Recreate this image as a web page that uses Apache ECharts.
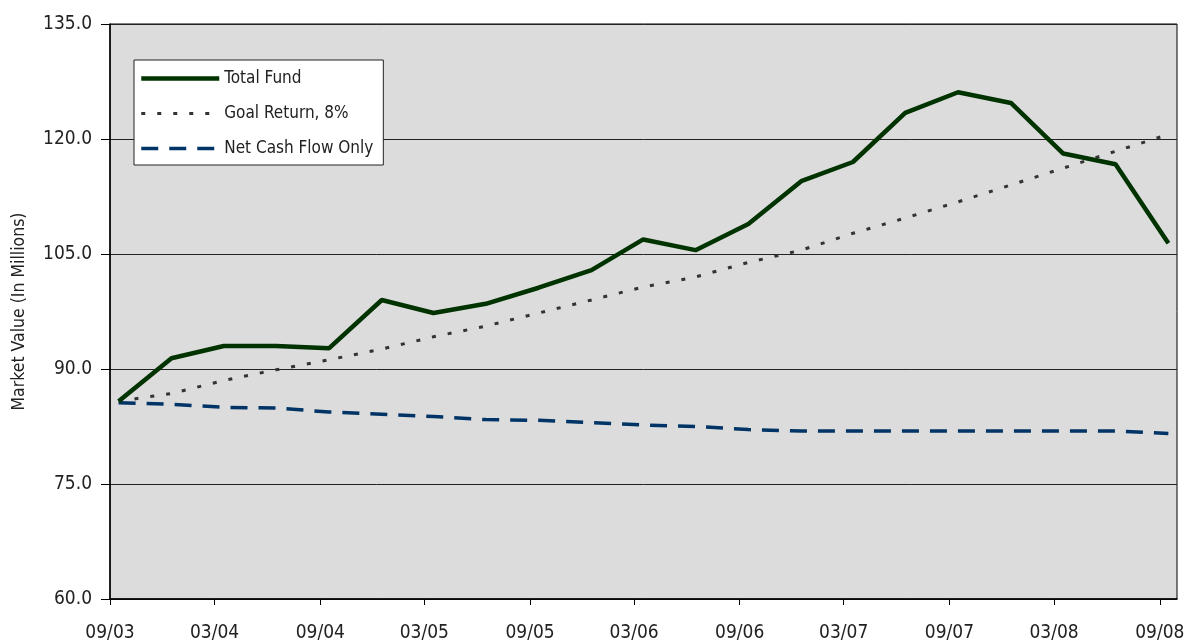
<!DOCTYPE html>
<html><head><meta charset="utf-8">
<script src="https://cdn.jsdelivr.net/npm/echarts@6/dist/echarts.min.js"></script>
<style>html,body{margin:0;padding:0;background:#fff}#c{width:1193px;height:644px}</style>
</head><body><div id="c"></div>
<script>
// Quarter-end dates (mm/dd/yyyy)
const dates = ['09/30/2003','12/31/2003','03/31/2004','06/30/2004','09/30/2004','12/31/2004','03/31/2005','06/30/2005','09/30/2005','12/31/2005','03/31/2006','06/30/2006','09/30/2006','12/31/2006','03/31/2007','06/30/2007','09/30/2007','12/31/2007','03/31/2008','06/30/2008','09/30/2008'];
const totalFund = [85.8, 91.4, 93.0, 93.0, 92.7, 99.0, 97.3, 98.5, 100.6, 102.9, 106.9, 105.5, 108.9, 114.5, 117.0, 123.4, 126.1, 124.7, 118.1, 116.7, 106.4];
const goalReturn = [85.8, 86.8, 88.5, 89.9, 91.2, 92.6, 94.2, 95.6, 97.3, 99.0, 100.7, 102.0, 103.9, 105.5, 107.7, 109.7, 111.8, 114.0, 116.2, 118.4, 120.6];
const netCashFlow = [85.6, 85.4, 85.0, 84.9, 84.4, 84.1, 83.8, 83.4, 83.3, 83.0, 82.7, 82.5, 82.1, 81.9, 81.9, 81.9, 81.9, 81.9, 81.9, 81.9, 81.6];
const tickLabels = ['09/03','03/04','09/04','03/05','09/05','03/06','09/06','03/07','09/07','03/08','09/08'];
const yTicks = [60, 75, 90, 105, 120, 135];

const DAY = 86400000;
const base = Date.UTC(2003, 8, 15);
function dateDays(s){ const p = s.split('/'); return (Date.UTC(+p[2], +p[0]-1, +p[1]) - base) / DAY; }
function tickDays(l){ const p = l.split('/'); return (Date.UTC(2000 + (+p[1]), +p[0]-1, 15) - base) / DAY; }
const tickValues = tickLabels.map(tickDays);
const xs = dates.map(dateDays);
const pairs = arr => arr.map((v,i) => [xs[i], v]);

const FONT = "'Liberation Sans Narrow', 'DejaVu Sans Condensed', 'Arial Narrow', sans-serif";
const S1 = {color: '#003300', width: 4.5};
const S2 = {color: '#333333', width: 3, type: [4, 12]};
const S3 = {color: '#003366', width: 3.5, type: [17, 11]};
const chart = echarts.init(document.getElementById('c'), null, {renderer:'canvas'});
chart.setOption({
  animation: false,
  backgroundColor: '#ffffff',
  grid: {left: 110, top: 24, right: 16, bottom: 45, show: true, backgroundColor: '#dcdcdc', borderColor: '#000', borderWidth: 1},
  legend: {
    orient: 'vertical', left: 134, top: 60,
    backgroundColor: '#fff', borderColor: '#222', borderWidth: 1,
    padding: [10, 10, 8, 5], itemWidth: 78, itemHeight: 14, itemGap: 18,
    itemStyle: {opacity: 0},
    textStyle: {fontFamily: FONT, fontSize: 17, color: '#222'},
    data: [
      {name: 'Total Fund', lineStyle: S1},
      {name: 'Goal Return, 8%', lineStyle: S2},
      {name: 'Net Cash Flow Only', lineStyle: S3}
    ]
  },
  xAxis: {
    type: 'value',
    min: tickValues[0],
    max: tickValues[tickValues.length-1] + 30,
    axisLine: {show: true, onZero: false, lineStyle: {color: '#000', width: 1.5}},
    axisTick: {show: true, length: 6, customValues: tickValues, lineStyle: {color: '#000'}},
    axisLabel: {
      customValues: tickValues, margin: 25, fontFamily: FONT, fontSize: 19, color: '#222',
      formatter: v => { const i = tickValues.indexOf(v); return i >= 0 ? tickLabels[i] : ''; }
    },
    splitLine: {show: false}
  },
  yAxis: {
    type: 'value', min: yTicks[0], max: yTicks[yTicks.length-1], interval: 15,
    name: 'Market Value (In Millions)', nameLocation: 'middle', nameGap: 82,
    nameTextStyle: {fontFamily: FONT, fontSize: 17.5, color: '#222'},
    axisLine: {show: true, lineStyle: {color: '#000', width: 1.5}},
    axisTick: {show: true, length: 9, lineStyle: {color: '#000'}},
    axisLabel: {margin: 18, fontFamily: FONT, fontSize: 19, color: '#222', formatter: v => v.toFixed(1)},
    splitLine: {show: true, lineStyle: {color: '#222', width: 1}}
  },
  series: [
    {name: 'Total Fund', type: 'line', data: pairs(totalFund), symbol: 'none', z: 5,
     lineStyle: S1, itemStyle: {color: S1.color}},
    {name: 'Goal Return, 8%', type: 'line', data: pairs(goalReturn), symbol: 'none', z: 4,
     lineStyle: S2, itemStyle: {color: S2.color}},
    {name: 'Net Cash Flow Only', type: 'line', data: pairs(netCashFlow), symbol: 'none', z: 3,
     lineStyle: S3, itemStyle: {color: S3.color}}
  ]
});
</script></body></html>
